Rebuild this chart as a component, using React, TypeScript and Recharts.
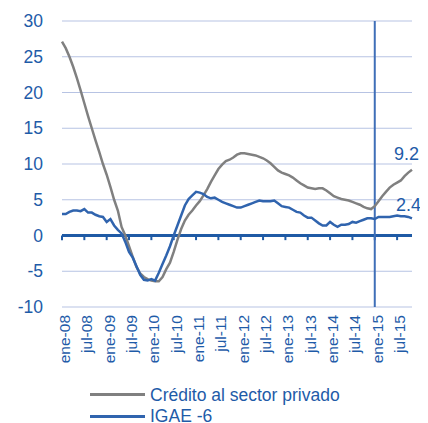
import { CartesianGrid, Legend, Line, LineChart, ReferenceLine, XAxis, YAxis } from "recharts"

const months = ["ene", "feb", "mar", "abr", "may", "jun", "jul", "ago", "sep", "oct", "nov", "dic"]
const years = ["08", "09", "10", "11", "12", "13", "14", "15"]
const categories = years.flatMap((y) => months.map((m) => `${m}-${y}`)).slice(0, 95)

const credito = [
  27.1, 26.2, 25.0, 23.6, 22.0, 20.3, 18.5, 16.7, 15.0, 13.3,
  11.7, 10.0, 8.5, 6.8, 5.0, 3.5, 1.2, 0.0, -1.5, -3.0,
  -4.4, -5.3, -5.8, -6.1, -6.3, -6.4, -6.4, -5.8, -4.7, -3.8,
  -2.3, -0.6, 0.9, 2.1, 2.9, 3.5, 4.2, 4.8, 5.6, 6.5,
  7.5, 8.4, 9.3, 9.9, 10.4, 10.6, 10.9, 11.3, 11.5, 11.5,
  11.4, 11.3, 11.2, 11.0, 10.8, 10.5, 10.1, 9.6, 9.1,
  8.8, 8.6, 8.4, 8.1, 7.7, 7.3, 7.0, 6.7, 6.6, 6.5,
  6.6, 6.6, 6.3, 5.9, 5.5, 5.3, 5.1, 5.0, 4.9, 4.7,
  4.5, 4.3, 4.0, 3.8, 3.7, 4.1, 4.8, 5.5, 6.1, 6.7,
  7.1, 7.4, 7.7, 8.3, 8.8, 9.2,
]

const igae = [
  3.0, 3.0, 3.3, 3.5, 3.5, 3.4, 3.7, 3.2, 3.2, 2.9,
  2.7, 2.6, 1.9, 2.3, 1.4, 0.8, 0.3, -0.9, -2.3, -3.1,
  -4.3, -5.5, -6.2, -6.3, -6.1, -6.3, -5.2, -4.0, -2.8, -1.5,
  0.0, 1.4, 2.8, 4.2, 5.1, 5.6, 6.1, 6.0, 5.8, 5.4,
  5.2, 5.3, 5.0, 4.7, 4.5, 4.3, 4.1, 3.9, 3.9, 4.1,
  4.3, 4.5, 4.7, 4.9, 4.8, 4.8, 4.8, 4.9, 4.5,
  4.1, 4.0, 3.9, 3.6, 3.3, 3.2, 2.8, 2.5, 2.5, 2.1,
  1.7, 1.4, 1.4, 1.9, 1.5, 1.2, 1.5, 1.5, 1.6, 1.9,
  1.8, 2.0, 2.2, 2.4, 2.4, 2.3, 2.6, 2.6, 2.6, 2.6,
  2.7, 2.8, 2.7, 2.7, 2.6, 2.4,
]

const yTicks = [-10, -5, 0, 5, 10, 15, 20, 25, 30]
const marker = "ene-15"

const data = categories.map((name, i) => ({
  name,
  "Crédito al sector privado": credito[i],
  "IGAE -6": igae[i],
}))

const labelled = categories.filter((_, i) => i % 6 === 0)

const font = "'Liberation Sans', Arial, sans-serif"
const textBlue = "#1E5BA8"
const axisBlue = "#1F5AA5"
const last = categories.length - 1

const XTick = ({ x, y, payload }: any) => (
  <g transform={`translate(${x + 8},${y})`}>
    <text transform="rotate(-90)" textAnchor="end" fill={textBlue} fontSize={15.5} fontFamily={font}>
      {payload.value}
    </text>
  </g>
)

const endLabel = (dx: number, dy: number) => (props: any) => {
  if (props.index !== last) return null
  return (
    <text x={props.x + dx} y={props.y + dy} fill={textBlue} fontSize={18} fontFamily={font}>
      {props.value}
    </text>
  )
}

const LegendBox = ({ payload }: any) => (
  <div style={{ fontFamily: font, fontSize: 17.5, color: textBlue }}>
    {(payload || []).map((p: any) => (
      <div key={p.value} style={{ display: "flex", alignItems: "center", height: 21.5 }}>
        <span style={{ width: 55, height: 3, background: p.color, marginRight: 5, display: "inline-block" }} />
        <span style={{ lineHeight: "12px", whiteSpace: "nowrap" }}>{p.value}</span>
      </div>
    ))}
  </div>
)

export default function App() {
  return (
    <div style={{ width: 420, height: 415 }}>
      <LineChart width={420} height={415} data={data} margin={{ top: 13, right: 16, bottom: 56, left: 0 }}>
        <CartesianGrid vertical={false} stroke="#B7C3E3" />
        <XAxis
          dataKey="name"
          interval={5}
          axisLine={false}
          tickLine={false}
          height={60}
          tick={<XTick />}
        />
        <YAxis
          domain={[-10, 30]}
          ticks={yTicks}
          width={54}
          axisLine={false}
          tickLine={false}
          tickMargin={13}
          tick={{ fill: textBlue, fontSize: 17.5, fontFamily: font }}
        />
        <ReferenceLine y={0} stroke={axisBlue} strokeWidth={3} />
        {labelled.map((c) => (
          <ReferenceLine
            key={c}
            segment={[
              { x: c, y: 0 },
              { x: c, y: -0.65 },
            ]}
            stroke={axisBlue}
            strokeWidth={2}
          />
        ))}
        <ReferenceLine x={marker} stroke="#3F6FB8" strokeWidth={2} />
        <Line
          type="linear"
          dataKey="Crédito al sector privado"
          stroke="#808080"
          strokeWidth={2.5}
          dot={false}
          isAnimationActive={false}
          label={endLabel(-18, -10)}
        />
        <Line
          type="linear"
          dataKey="IGAE -6"
          stroke="#3064AE"
          strokeWidth={2.5}
          dot={false}
          isAnimationActive={false}
          label={endLabel(-16, -7)}
        />
        <Legend
          layout="vertical"
          align="center"
          verticalAlign="middle"
          content={<LegendBox />}
          wrapperStyle={{ left: 82, top: 376, width: 300, height: "auto", overflow: "visible" }}
        />
      </LineChart>
    </div>
  )
}
